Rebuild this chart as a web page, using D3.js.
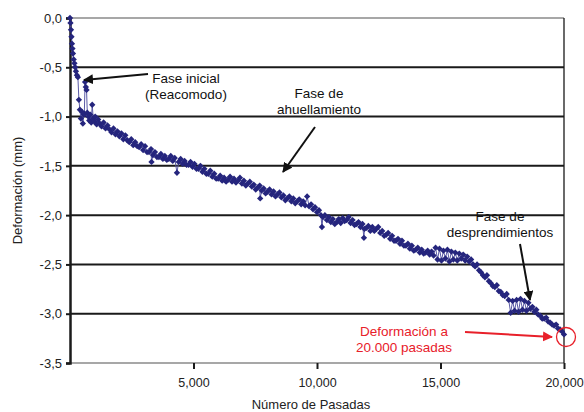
<!DOCTYPE html>
<html>
<head>
<meta charset="utf-8">
<script src="https://cdn.jsdelivr.net/npm/d3@7/dist/d3.min.js"></script>
<style>
body { margin: 0; background: #fff; }
text { font-family: "Liberation Sans", Arial, sans-serif; }
</style>
</head>
<body>
<svg id="chart" width="584" height="412"></svg>
<script>
// numero de pasadas / deformacion (mm)
var passes = [0, 20, 40, 60, 80, 100, 120, 150, 180, 210, 240, 280, 320, 360, 400, 440, 480, 520, 560, 580,
    610, 640, 670, 700, 740, 780, 820, 860, 900, 940, 980, 1020, 1080, 1140,
    1200, 1280, 1360, 1440, 1520, 1600, 1680, 1760, 1840, 1920, 2000, 2080, 2160, 2240, 2320,
    2400, 2480, 2560, 2640, 2720, 2800, 2880, 2960, 3040, 3120, 3200, 3280, 3300, 3360, 3440, 3520,
    3600, 3680, 3760, 3840, 3920, 4000, 4080, 4160, 4240, 4330, 4400, 4480, 4560, 4640, 4720,
    4800, 4880, 4960, 5040, 5120, 5200, 5280, 5360, 5440, 5520, 5600, 5680, 5760, 5840, 5920,
    6000, 6080, 6160, 6240, 6320, 6400, 6480, 6560, 6640, 6720, 6800, 6880, 6960, 7040, 7120,
    7200, 7280, 7360, 7440, 7520, 7600, 7680, 7700, 7760, 7840, 7920, 8000, 8080, 8160, 8240, 8320,
    8400, 8480, 8560, 8640, 8720, 8800, 8880, 8960, 9040, 9120, 9200, 9280, 9360, 9440, 9520,
    9600, 9680, 9760, 9840, 9920, 10000, 10080, 10160, 10200, 10240, 10320, 10400, 10480, 10560, 10640, 10720,
    10800, 10880, 10960, 11040, 11120, 11200, 11280, 11360, 11440, 11520, 11600, 11680, 11760, 11840, 11900, 11920,
    12000, 12080, 12160, 12240, 12320, 12400, 12480, 12560, 12640, 12720, 12800, 12880, 12960, 13040, 13120,
    13200, 13280, 13360, 13440, 13520, 13600, 13680, 13760, 13840, 13920, 14000, 14080, 14160, 14240, 14320,
    14400, 14480, 14560, 14640, 14720, 14800, 14880, 14960, 15040, 15120, 15200, 15280, 15360, 15440, 15520,
    15600, 15680, 15760, 15840, 15920, 16000, 16080, 16160, 16240, 16320, 16400, 16480, 16560, 16640, 16720,
    16800, 16880, 16960, 17040, 17120, 17200, 17280, 17360, 17440, 17520, 17600, 17680, 17760, 17840, 17920,
    18000, 18080, 18160, 18240, 18320, 18400, 18480, 18560, 18640, 18720, 18800, 18880, 18960, 19040, 19120,
    19200, 19280, 19360, 19440, 19520, 19600, 19680, 19760, 19840, 19920, 20000];

var deform = [0, -0.05, -0.12, -0.19, -0.26, -0.31, -0.36, -0.42, -0.46, -0.50, -0.54, -0.58, -0.60, -0.83, -0.93, -1.02, -0.95, -1.07, -0.98, -0.97,
    -0.65, -0.70, -0.73, -0.96, -1.00, -1.04, -0.98, -1.06, -0.88, -1.02, -1.05, -1.00, -1.08, -1.03,
    -1.07, -1.10, -1.06, -1.12, -1.09, -1.13, -1.16, -1.12, -1.18, -1.15, -1.20, -1.17, -1.23, -1.19, -1.24,
    -1.26, -1.23, -1.29, -1.26, -1.30, -1.31, -1.28, -1.34, -1.30, -1.36, -1.36, -1.33, -1.46, -1.39, -1.36, -1.41,
    -1.41, -1.38, -1.43, -1.40, -1.44, -1.43, -1.40, -1.45, -1.42, -1.57, -1.46, -1.43, -1.48, -1.45, -1.49,
    -1.49, -1.46, -1.51, -1.48, -1.53, -1.53, -1.50, -1.56, -1.53, -1.58, -1.58, -1.55, -1.61, -1.58, -1.63,
    -1.63, -1.60, -1.65, -1.62, -1.66, -1.64, -1.61, -1.66, -1.63, -1.67, -1.65, -1.62, -1.68, -1.65, -1.70,
    -1.68, -1.66, -1.71, -1.69, -1.74, -1.72, -1.70, -1.83, -1.75, -1.73, -1.78, -1.76, -1.74, -1.79, -1.76, -1.81,
    -1.79, -1.77, -1.82, -1.80, -1.85, -1.83, -1.81, -1.86, -1.83, -1.88, -1.86, -1.84, -1.89, -1.86, -1.90,
    -1.81, -1.91, -1.89, -1.94, -1.92, -1.97, -1.95, -2.00, -2.12, -2.02, -2.00, -2.05, -2.02, -2.07, -2.04, -2.09,
    -2.07, -2.04, -2.08, -2.03, -2.06, -2.05, -2.02, -2.08, -2.05, -2.10, -2.09, -2.07, -2.12, -2.09, -2.23, -2.14,
    -2.13, -2.11, -2.16, -2.12, -2.16, -2.14, -2.12, -2.18, -2.16, -2.21, -2.20, -2.18, -2.24, -2.21, -2.26,
    -2.26, -2.24, -2.29, -2.26, -2.31, -2.31, -2.29, -2.34, -2.31, -2.36, -2.35, -2.33, -2.38, -2.35, -2.39,
    -2.38, -2.36, -2.40, -2.37, -2.41, -2.33, -2.45, -2.34, -2.46, -2.36, -2.44, -2.35, -2.47, -2.37, -2.45,
    -2.38, -2.46, -2.39, -2.44, -2.40, -2.46, -2.42, -2.47, -2.45, -2.50, -2.52, -2.50, -2.56, -2.58, -2.61,
    -2.63, -2.61, -2.67, -2.69, -2.72, -2.73, -2.71, -2.77, -2.78, -2.81, -2.82, -2.80, -2.86, -2.99, -2.87,
    -2.97, -2.86, -2.98, -2.85, -2.96, -2.87, -2.97, -2.89, -2.95, -2.93, -2.98, -2.96, -3.01, -3.02, -3.05,
    -3.05, -3.04, -3.08, -3.09, -3.11, -3.12, -3.11, -3.15, -3.16, -3.18, -3.21];

var yTicks = [0, -0.5, -1.0, -1.5, -2.0, -2.5, -3.0, -3.5];
var xTicks = [5000, 10000, 15000, 20000];

var svg = d3.select("#chart");
var margin = {top: 18, right: 20, bottom: 49, left: 70};
var width = 584 - margin.left - margin.right,
    height = 412 - margin.top - margin.bottom;

var x = d3.scaleLinear().domain([0, 20000]).range([margin.left, margin.left + width]);
var y = d3.scaleLinear().domain([0, -3.5]).range([margin.top, margin.top + height]);

var defs = svg.append("defs");
defs.append("marker").attr("id", "arrBlack")
    .attr("viewBox", "0 0 10 10").attr("refX", 9).attr("refY", 5)
    .attr("markerWidth", 5).attr("markerHeight", 5).attr("orient", "auto")
    .append("path").attr("d", "M0,0L10,5L0,10z").attr("fill", "#111");
defs.append("marker").attr("id", "arrRed")
    .attr("viewBox", "0 0 10 10").attr("refX", 9).attr("refY", 5)
    .attr("markerWidth", 5).attr("markerHeight", 5).attr("orient", "auto")
    .append("path").attr("d", "M0,0L10,5L0,10z").attr("fill", "#e8202a");

// gridlines
svg.append("g").selectAll("line").data(yTicks).enter().append("line")
    .attr("x1", x(0)).attr("x2", x(20000))
    .attr("y1", function (d) { return y(d); }).attr("y2", function (d) { return y(d); })
    .attr("stroke", function (d) { return (d == 0 || d == -3.5) ? "#8a8a8a" : "#1a1a1a"; })
    .attr("stroke-width", function (d) { return (d == 0 || d == -3.5) ? 1.5 : 2; });

// right border
svg.append("line").attr("x1", x(20000)).attr("x2", x(20000))
    .attr("y1", y(0)).attr("y2", y(-3.5)).attr("stroke", "#1a1a1a").attr("stroke-width", 1.3);

// y axis
var yAxis = d3.axisLeft(y).tickValues(yTicks).tickSize(4).tickPadding(4)
    .tickFormat(function (d) { return d3.format(".1f")(d).replace(".", ",").replace("−", "-"); });
var gy = svg.append("g").attr("transform", "translate(" + margin.left + ",0)").call(yAxis);
gy.select(".domain").attr("stroke", "#1a1a1a").attr("stroke-width", 2.5);
gy.selectAll(".tick line").attr("stroke", "#1a1a1a").attr("stroke-width", 2);
gy.selectAll("text").attr("font-size", "13px").attr("fill", "#222")
    .style("font-family", "Liberation Sans, Arial, sans-serif");

// x axis
var xAxis = d3.axisBottom(x).tickValues(xTicks).tickSize(6).tickPadding(9)
    .tickFormat(d3.format(",d"));
var gx = svg.append("g").attr("transform", "translate(0," + (margin.top + height) + ")").call(xAxis);
gx.select(".domain").remove();
gx.selectAll(".tick line").attr("stroke", "#1a1a1a").attr("stroke-width", 2);
gx.selectAll("text").attr("font-size", "12.5px").attr("fill", "#222")
    .style("font-family", "Liberation Sans, Arial, sans-serif");

// axis titles
svg.append("text").attr("transform", "translate(22," + (margin.top + height / 2) + ") rotate(-90)")
    .attr("text-anchor", "middle").attr("font-size", "13px").attr("fill", "#222")
    .text("Deformación (mm)");
svg.append("text").attr("x", 311).attr("y", 409)
    .attr("text-anchor", "middle").attr("font-size", "13px").attr("fill", "#222")
    .text("Número de Pasadas");

// series
var data = passes.map(function (p, i) { return {pass: p, value: deform[i]}; });
var line = d3.line()
    .x(function (d) { return x(d.pass); })
    .y(function (d) { return y(d.value); });

svg.append("path").datum(data)
    .attr("d", line).attr("fill", "none")
    .attr("stroke", "#5a5aa6").attr("stroke-width", 1);

// diamond markers = squares turned 45 deg
svg.append("g").selectAll("path").data(data).enter().append("path")
    .attr("transform", function (d) { return "translate(" + x(d.pass) + "," + y(d.value) + ") rotate(45)"; })
    .attr("d", d3.symbol().type(d3.symbolSquare).size(20))
    .attr("fill", "#25257d");

// annotations
function label(lines, cx, cy, color) {
    var t = svg.append("text").attr("text-anchor", "middle").attr("font-size", "13.5px").attr("fill", color);
    lines.forEach(function (s, i) {
        t.append("tspan").attr("x", cx).attr("y", cy + i * 15.5).text(s);
    });
}
label(["Fase inicial", "(Reacomodo)"], 186, 83, "#111");
label(["Fase de", "ahuellamiento"], 319, 98, "#111");
label(["Fase de", "desprendimientos"], 500, 221, "#111");
label(["Deformación a", "20.000 pasadas"], 404, 336, "#e8202a");

svg.append("line").attr("x1", 148).attr("y1", 74).attr("x2", 84).attr("y2", 80)
    .attr("stroke", "#111").attr("stroke-width", 2).attr("marker-end", "url(#arrBlack)");
svg.append("line").attr("x1", 315).attr("y1", 127).attr("x2", 283).attr("y2", 172)
    .attr("stroke", "#111").attr("stroke-width", 2).attr("marker-end", "url(#arrBlack)");
svg.append("line").attr("x1", 520).attr("y1", 244).attr("x2", 530).attr("y2", 300)
    .attr("stroke", "#111").attr("stroke-width", 2).attr("marker-end", "url(#arrBlack)");
svg.append("line").attr("x1", 465).attr("y1", 332).attr("x2", 552).attr("y2", 337)
    .attr("stroke", "#e8202a").attr("stroke-width", 2).attr("marker-end", "url(#arrRed)");
svg.append("circle").attr("cx", 566).attr("cy", 337).attr("r", 9.5)
    .attr("fill", "none").attr("stroke", "#e8202a").attr("stroke-width", 1.3);
</script>
</body>
</html>
